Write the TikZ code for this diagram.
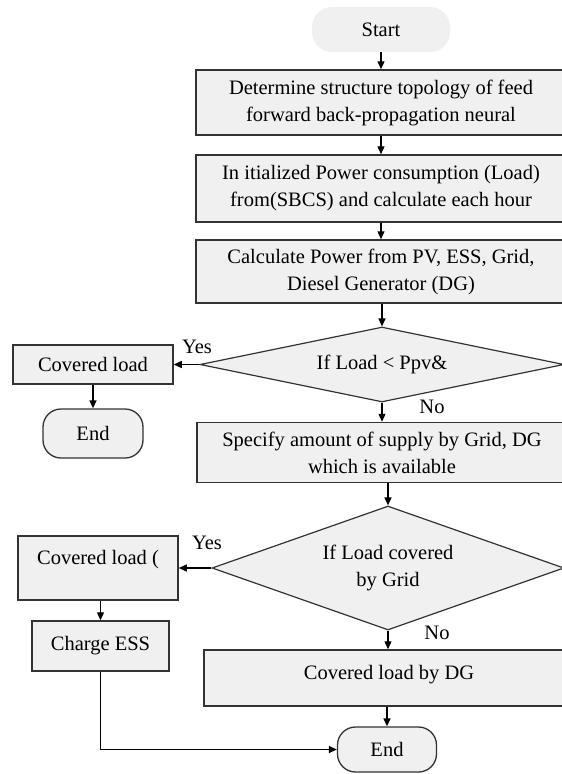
\documentclass[tikz,border=0pt]{standalone}
\usepackage{fontspec}
\setmainfont{Liberation Serif}
\usetikzlibrary{shapes.geometric,arrows.meta}

\begin{document}
\begin{tikzpicture}[x=1pt,y=-1pt,
	txt/.style={font=\fontsize{20.5}{27}\selectfont},
	proc/.style={txt,draw=black!80,fill=black!6,line width=1.5pt,align=center,inner sep=0pt},
	term/.style={txt,fill=black!6,rounded corners=20pt,inner sep=0pt},
	dec/.style={txt,diamond,draw=black!80,fill=black!6,line width=1.2pt,align=center,inner sep=0pt},
	lbl/.style={txt,inner sep=0pt},
	arr/.style={-{Triangle[length=8pt,width=7pt]},line width=1.3pt}]
	\path[use as bounding box] (0,0) rectangle (562,774);
	\clip (0,0) rectangle (562,774);
	\node[term,minimum width=138pt,minimum height=45pt] (start) at (381,29.5) {Start};
	\node[proc,minimum width=370pt,minimum height=65pt] (topo) at (381,102.5) {Determine structure topology of feed\\forward back-propagation neural};
	\node[proc,minimum width=370pt,minimum height=67pt] (init) at (381,188.5) {In itialized Power consumption (Load)\\from(SBCS) and calculate each hour};
	\node[proc,minimum width=370pt,minimum height=63pt] (calc) at (381,271.5) {Calculate Power from PV, ESS, Grid,\\Diesel Generator (DG)};
	\node[dec,minimum width=364pt,minimum height=75pt,aspect=4.85] (ifpv) at (382,364.5) {If Load < Ppv\&};
	\node[proc,minimum width=160pt,minimum height=39pt] (covA) at (93,364.5) {Covered load};
	\node[term,draw=black!80,line width=1.3pt,rounded corners=18pt,minimum width=100pt,minimum height=49pt] (endA) at (93,433.5) {End};
	\node[proc,minimum width=370pt,minimum height=60pt] (spec) at (382,452.5) {Specify amount of supply by Grid, DG\\which is available};
	\node[dec,minimum width=352pt,minimum height=124pt,aspect=2.8] (ifgrid) at (388,568) {If Load covered\\by Grid};
	\node[proc,minimum width=160pt,minimum height=64pt,text height=15pt,text depth=23pt] (covB) at (98,568) {Covered load (};
	\node[proc,minimum width=137pt,minimum height=50pt] (charge) at (100.5,646) {Charge ESS};
	\node[proc,minimum width=370pt,minimum height=56pt,text height=14pt,text depth=12pt] (dg) at (389,678) {Covered load by DG};
	\node[term,draw=black!80,line width=1.3pt,rounded corners=18pt,minimum width=99pt,minimum height=45pt] (endB) at (387,749.5) {End};
	\node[lbl] (yesA) at (197,347) {Yes};
	\node[lbl] (noA) at (432,407) {No};
	\node[lbl] (yesB) at (207,543) {Yes};
	\node[lbl] (noB) at (437,633) {No};
	\draw[arr] (start) -- (topo);
	\draw[arr] (topo) -- (init);
	\draw[arr] (init) -- (calc);
	\draw[arr] (calc.south -| ifpv.north) -- (ifpv.north);
	\draw[arr] (ifpv) -- (covA);
	\draw[arr] (covA) -- (endA);
	\draw[arr] (ifpv.south) -- (ifpv.south |- spec.north);
	\draw[arr] (spec.south -| ifgrid.north) -- (ifgrid.north);
	\draw[arr] (ifgrid) -- (covB);
	\draw[arr] (covB.south -| charge.north) -- (charge.north);
	\draw[arr] (ifgrid.south) -- (ifgrid.south |- dg.north);
	\draw[arr] (dg.south -| endB.north) -- (endB.north);
	\draw[arr] (charge.south) |- (endB.west);
\end{tikzpicture}
\end{document}
